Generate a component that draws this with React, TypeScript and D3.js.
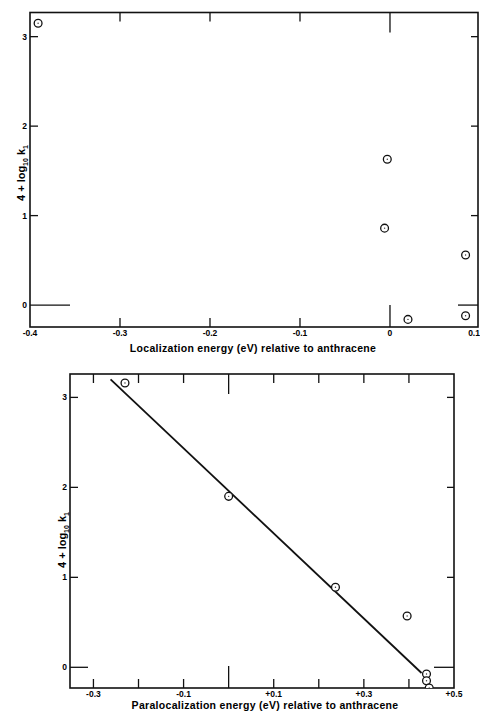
import React, { useEffect, useRef } from 'react';
import * as d3 from 'd3';

// upper panel: localization energy vs rate
const locEnergy = [-0.391, -0.003, -0.006, 0.084, 0.02, 0.084];
const locRate = [3.15, 1.63, 0.86, 0.56, -0.16, -0.12];
const locTicks = [-0.3, -0.2, -0.1, 0];
const locLabelTicks = [-0.4, -0.3, -0.2, -0.1, 0, 0.1];
const locTickLabels = ['-0.4', '-0.3', '-0.2', '-0.1', '0', '0.1'];

// lower panel: paralocalization energy vs rate
const paraEnergy = [-0.23, 0.0, 0.237, 0.396, 0.439, 0.439, 0.445];
const paraRate = [3.16, 1.9, 0.89, 0.57, -0.074, -0.149, -0.23];
const paraTicks = [-0.3, -0.2, -0.1, 0, 0.1, 0.2, 0.3, 0.4];
const paraLabelTicks = [-0.3, -0.1, 0.1, 0.3, 0.5];
const paraTickLabels = ['-0.3', '-0.1', '+0.1', '+0.3', '+0.5'];
const fitEnergy = [-0.262, 0.428];
const fitRate = [3.2, -0.063];

const rateTicks = [0, 1, 2, 3];
const rateTickLabels = ['0', '1', '2', '3'];

const FONT = '"Liberation Sans", Arial, sans-serif';

const App: React.FC = () => {
  const svgRef = useRef<SVGSVGElement>(null);

  useEffect(() => {
    if (!svgRef.current) return;
    const svg = d3.select(svgRef.current);
    svg.selectAll('*').remove();

    const drawPanel = (cfg: any) => {
      const x = d3.scaleLinear().domain(cfg.xDomain).range(cfg.xRange);
      const y = d3.scaleLinear().domain(cfg.yDomain).range(cfg.yRange);
      const [x0, x1] = cfg.xRange;
      const [y1, y0] = cfg.yRange;
      const g = svg.append('g');

      g.append('clipPath').attr('id', cfg.id)
        .append('rect').attr('x', x0).attr('y', y0).attr('width', x1 - x0).attr('height', y1 - y0);

      // frame
      g.append('rect')
        .attr('x', x0).attr('y', y0).attr('width', x1 - x0).attr('height', y1 - y0)
        .attr('fill', 'none').attr('stroke', '#111').attr('stroke-width', 1.6);

      // y ticks, left and right
      rateTicks.forEach(t => {
        g.append('line')
          .attr('x1', x0).attr('x2', x0 + (t === 0 ? cfg.zeroLeft : 8))
          .attr('y1', y(t)).attr('y2', y(t))
          .attr('stroke', '#111').attr('stroke-width', 1.3);
        g.append('line')
          .attr('x1', x1).attr('x2', x1 - (t === 0 ? cfg.zeroRight : 7))
          .attr('y1', y(t)).attr('y2', y(t))
          .attr('stroke', '#111').attr('stroke-width', 1.3);
      });
      g.selectAll('.ylab')
        .data(rateTicks)
        .join('text')
        .attr('x', x0 - 3)
        .attr('y', d => y(d) + 3)
        .attr('text-anchor', 'end')
        .attr('font-family', FONT)
        .attr('font-weight', 'bold')
        .attr('font-size', 8.5)
        .text((_, i) => rateTickLabels[i]);

      // x ticks, bottom and top
      cfg.xTicks.forEach((t: number) => {
        g.append('line')
          .attr('x1', x(t)).attr('x2', x(t))
          .attr('y1', y1).attr('y2', y1 - (t === 0 ? 22 : 9))
          .attr('stroke', '#111').attr('stroke-width', 1.3);
        g.append('line')
          .attr('x1', x(t)).attr('x2', x(t))
          .attr('y1', y0).attr('y2', y0 + (t === 0 ? 20 : 9))
          .attr('stroke', '#111').attr('stroke-width', 1.3);
      });
      g.selectAll('.xlab')
        .data(cfg.labelTicks)
        .join('text')
        .attr('x', (d: any) => Math.min(Math.max(x(d), x0 - 3), 480))
        .attr('y', y1 + 9)
        .attr('text-anchor', (d: any) => (x(d) > 470 ? 'end' : 'middle'))
        .attr('font-family', FONT)
        .attr('font-weight', 'bold')
        .attr('font-size', 8.5)
        .text((_: any, i: number) => cfg.labels[i]);

      // fitted line
      if (cfg.line) {
        g.append('path')
          .datum(cfg.line)
          .attr('d', d3.line<any>().x(d => x(d[0])).y(d => y(d[1])))
          .attr('fill', 'none').attr('stroke', '#111').attr('stroke-width', 1.8);
      }

      // data points
      const pts = cfg.px.map((v: number, i: number) => [v, cfg.py[i]]);
      const pg = g.append('g').attr('clip-path', `url(#${cfg.id})`);
      pg.selectAll('circle.pt')
        .data(pts)
        .join('circle')
        .attr('class', 'pt')
        .attr('cx', (d: any) => x(d[0]))
        .attr('cy', (d: any) => y(d[1]))
        .attr('r', 3.9)
        .attr('fill', '#fff')
        .attr('stroke', '#111')
        .attr('stroke-width', 1.3);
      pg.selectAll('circle.dot')
        .data(pts)
        .join('circle')
        .attr('class', 'dot')
        .attr('cx', (d: any) => x(d[0]))
        .attr('cy', (d: any) => y(d[1]))
        .attr('r', 0.7)
        .attr('fill', '#333');

      // axis titles
      g.append('text')
        .attr('x', cfg.titleX)
        .attr('y', cfg.titleY)
        .attr('text-anchor', 'middle')
        .attr('font-family', FONT)
        .attr('font-weight', 'bold')
        .attr('font-size', 10.5)
        .attr('letter-spacing', '0.3px')
        .text(cfg.title);

      const yt = g.append('text')
        .attr('transform', `translate(${cfg.yTitleX},${cfg.yTitleY}) rotate(-90)`)
        .attr('text-anchor', 'middle')
        .attr('font-family', FONT)
        .attr('font-weight', 'bold')
        .attr('font-size', 11);
      yt.append('tspan').text('4 + log');
      yt.append('tspan').attr('font-size', 7).attr('dy', 2.5).text('10');
      yt.append('tspan').attr('dy', -2.5).text(' k');
      yt.append('tspan').attr('font-size', 7).attr('dy', 2.5).text('1');
    };

    drawPanel({
      id: 'clip-top',
      xDomain: [-0.4, 0.0978], xRange: [30, 478],
      yDomain: [-0.245, 3.27], yRange: [327, 12.5],
      xTicks: locTicks, labelTicks: locLabelTicks, labels: locTickLabels,
      px: locEnergy, py: locRate,
      zeroLeft: 40, zeroRight: 20,
      title: 'Localization  energy (eV) relative to anthracene',
      titleX: 253, titleY: 352,
      yTitleX: 25, yTitleY: 173,
    });

    drawPanel({
      id: 'clip-bottom',
      xDomain: [-0.352, 0.5], xRange: [70, 454],
      yDomain: [-0.23, 3.26], yRange: [688, 374],
      xTicks: paraTicks, labelTicks: paraLabelTicks, labels: paraTickLabels,
      px: paraEnergy, py: paraRate,
      line: fitEnergy.map((v, i) => [v, fitRate[i]]),
      zeroLeft: 18, zeroRight: 20,
      title: 'Paralocalization  energy (eV) relative to anthracene',
      titleX: 265, titleY: 709,
      yTitleX: 66, yTitleY: 540,
    });
  }, []);

  return (
    <div style={{ position: 'absolute', left: 0, top: 0, width: 480, height: 713, background: '#fff' }}>
      <svg ref={svgRef} width={480} height={713} style={{ display: 'block' }}></svg>
    </div>
  );
};

export default App;
